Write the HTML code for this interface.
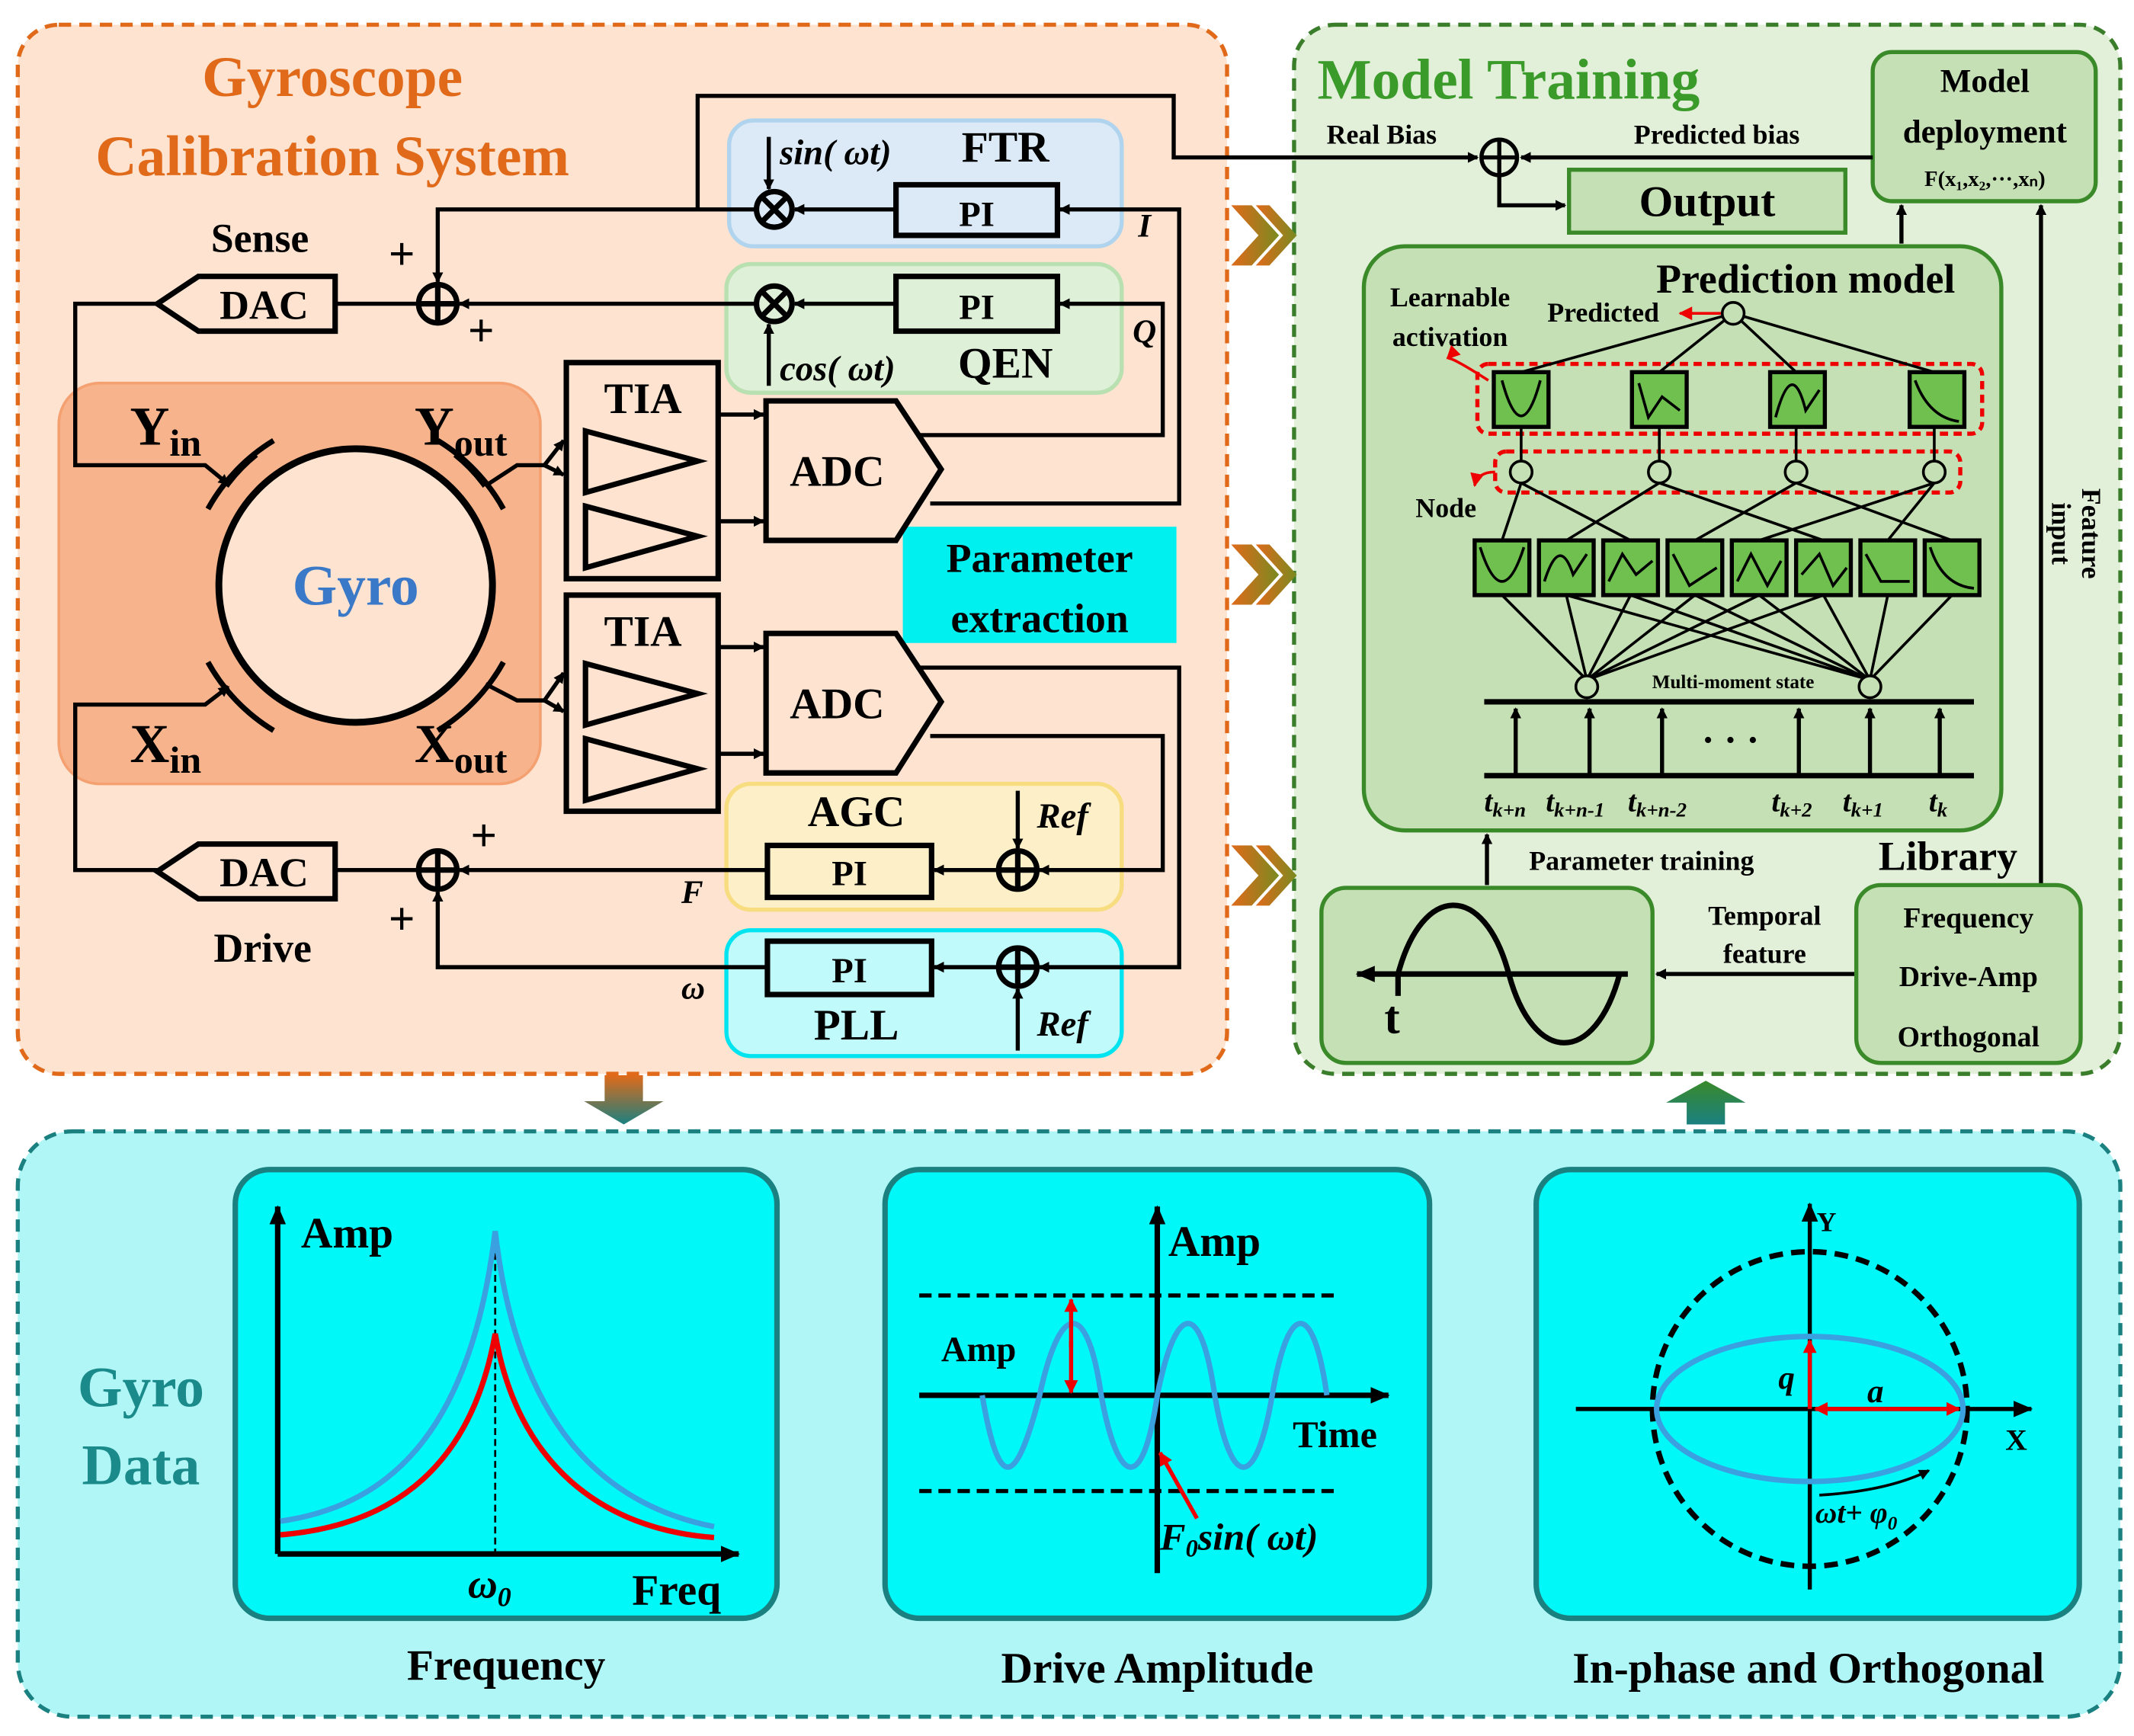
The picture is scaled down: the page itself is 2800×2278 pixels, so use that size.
<!DOCTYPE html>
<html><head><meta charset="utf-8"><style>
html,body{margin:0;padding:0;background:#fff}
svg{display:block}
text{font-family:"Liberation Serif",serif;font-weight:bold}
</style></head><body>
<svg width="2800" height="2278" viewBox="0 0 1560 1269" xmlns="http://www.w3.org/2000/svg">
<defs>
<marker id="a" markerWidth="8" markerHeight="8" refX="7" refY="4" orient="auto" markerUnits="userSpaceOnUse" viewBox="0 0 8 8"><path d="M0,0 L8,4 L0,8 z" fill="#000"/></marker>
<marker id="ab" markerWidth="14" markerHeight="12" refX="13" refY="6" orient="auto" markerUnits="userSpaceOnUse" viewBox="0 0 14 12"><path d="M0,0 L14,6 L0,12 z" fill="#000"/></marker>
<marker id="ar" markerWidth="10" markerHeight="10" refX="9" refY="5" orient="auto" markerUnits="userSpaceOnUse" viewBox="0 0 10 10"><path d="M0,0 L10,5 L0,10 z" fill="#e00"/></marker>
<linearGradient id="ch" x1="0" x2="1"><stop offset="0" stop-color="#e06a1a"/><stop offset="1" stop-color="#7a8a20"/></linearGradient>
<linearGradient id="dn" x1="0" y1="0" x2="0" y2="1"><stop offset="0" stop-color="#e06a1a"/><stop offset="1" stop-color="#1a8080"/></linearGradient>
<linearGradient id="up" x1="0" y1="0" x2="0" y2="1"><stop offset="0" stop-color="#3a8a2a"/><stop offset="1" stop-color="#1a8080"/></linearGradient>
</defs>

<rect x="13" y="18" width="884" height="767" rx="30" fill="#fde3d0" stroke="#e06a1a" stroke-width="3" stroke-dasharray="9,6"/>
<rect x="946" y="18" width="604" height="767" rx="30" fill="#e2efd9" stroke="#3a7d2a" stroke-width="3" stroke-dasharray="9,6"/>
<rect x="13" y="827" width="1537" height="428" rx="40" fill="#b0f6f6" stroke="#1a8080" stroke-width="3" stroke-dasharray="9,6"/>

<g fill="url(#ch)">
<path d="M900,150 L915,150 L935,172 L915,194 L900,194 L920,172z"/><path d="M918,150 L928,150 L948,172 L928,194 L918,194 L938,172z"/>
<path d="M900,398 L915,398 L935,420 L915,442 L900,442 L920,420z"/><path d="M918,398 L928,398 L948,420 L928,442 L918,442 L938,420z"/>
<path d="M900,618 L915,618 L935,640 L915,662 L900,662 L920,640z"/><path d="M918,618 L928,618 L948,640 L928,662 L918,662 L938,640z"/>
</g>
<path d="M442,786 L470,786 L470,805 L485,805 L456,822 L427,805 L442,805z" fill="url(#dn)"/>
<path d="M1233,822 L1261,822 L1261,806 L1276,806 L1247,790 L1218,806 L1233,806z" fill="url(#up)"/>

<text x="243" y="70" font-size="42" fill="#e06a1a" text-anchor="middle">Gyroscope</text>
<text x="243" y="128" font-size="42" fill="#e06a1a" text-anchor="middle">Calibration System</text>

<rect x="533" y="88" width="287" height="92" rx="18" fill="#dbeaf6" stroke="#b0d4ee" stroke-width="3"/>
<rect x="531" y="193" width="289" height="94" rx="18" fill="#dff0d8" stroke="#b8e0b0" stroke-width="3"/>
<rect x="531" y="573" width="289" height="92" rx="18" fill="#fdf0c8" stroke="#f8dc80" stroke-width="3"/>
<rect x="531" y="680" width="289" height="92" rx="18" fill="#c0fafa" stroke="#00e4f0" stroke-width="3"/>
<rect x="43" y="280" width="352" height="293" rx="30" fill="#f7b48c" stroke="#f5a070" stroke-width="2"/>
<rect x="660" y="385" width="200" height="85" fill="#00f0f0"/>
<text x="760" y="418" font-size="30" text-anchor="middle">Parameter</text>
<text x="760" y="462" font-size="30" text-anchor="middle">extraction</text>

<g stroke="#000" stroke-width="4" fill="none">
<rect x="655" y="135" width="118" height="37"/>
<rect x="655" y="202" width="118" height="40"/>
<rect x="561" y="618" width="120" height="38"/>
<rect x="561" y="688" width="120" height="39"/>
<circle cx="566" cy="153" r="13"/><path d="M557,144 L575,162 M575,144 L557,162"/>
<circle cx="566" cy="222" r="13"/><path d="M557,213 L575,231 M575,213 L557,231"/>
<circle cx="320" cy="222" r="14"/><path d="M306,222 H334 M320,208 V236"/>
<circle cx="320" cy="636" r="14"/><path d="M306,636 H334 M320,622 V650"/>
<circle cx="744" cy="636" r="14"/><path d="M730,636 H758 M744,622 V650"/>
<circle cx="744" cy="707" r="14"/><path d="M730,707 H758 M744,693 V721"/>
<path d="M115,222 L145,202 L245,202 L245,242 L145,242z"/>
<path d="M115,637 L145,617 L245,617 L245,657 L145,657z"/>
<rect x="414" y="265" width="111" height="158"/>
<rect x="414" y="435" width="111" height="158"/>
<path d="M428,315 L510,337 L428,360z M428,370 L510,392 L428,415z M428,485 L510,507 L428,530z M428,540 L510,562 L428,585z"/>
<path d="M560,293 L655,293 L688,343 L655,395 L560,395z"/>
<path d="M560,463 L655,463 L688,513 L655,565 L560,565z"/>
<circle cx="260" cy="428" r="100" stroke-width="5" fill="#fde3d0"/>
<path d="M165,355 A120,120 0 0,1 187,332" stroke-width="5"/>
<path d="M152,372 A135,135 0 0,1 200,322" stroke-width="4"/>
<path d="M333,332 A120,120 0 0,1 355,355" stroke-width="5"/>
<path d="M320,322 A135,135 0 0,1 368,372" stroke-width="4"/>
<path d="M152,484 A135,135 0 0,0 200,534" stroke-width="4"/>
<path d="M320,534 A135,135 0 0,0 368,484" stroke-width="4"/>
</g>

<g stroke="#000" stroke-width="3" fill="none">
<path d="M510,153 V70 H858 V115 H1080" marker-end="url(#a)"/>
<path d="M552,153 H320 V206" marker-end="url(#a)"/>
<path d="M655,153 H581" marker-end="url(#a)"/>
<path d="M655,222 H581" marker-end="url(#a)"/>
<path d="M562,100 V138" marker-end="url(#a)"/>
<path d="M562,282 V237" marker-end="url(#a)"/>
<path d="M670,318 H850 V222 H775" marker-end="url(#a)"/>
<path d="M680,368 H862 V153 H775" marker-end="url(#a)"/>
<path d="M552,222 H336" marker-end="url(#a)"/>
<path d="M306,222 H245"/>
<path d="M115,222 H55 V340 H150 L167,354" marker-end="url(#a)"/>
<path d="M115,636 H55 V515 H150 L167,502" marker-end="url(#a)"/>
<path d="M355,355 L378,340 H398"/>
<path d="M398,340 L412,322" marker-end="url(#a)"/>
<path d="M398,340 L412,347" marker-end="url(#a)"/>
<path d="M355,500 L378,512 H398"/>
<path d="M398,512 L412,492" marker-end="url(#a)"/>
<path d="M398,512 L412,520" marker-end="url(#a)"/>
<path d="M525,303 H558" marker-end="url(#a)"/>
<path d="M525,381 H558" marker-end="url(#a)"/>
<path d="M525,473 H558" marker-end="url(#a)"/>
<path d="M525,551 H558" marker-end="url(#a)"/>
<path d="M670,488 H862 V707 H760" marker-end="url(#a)"/>
<path d="M680,538 H850 V636 H760" marker-end="url(#a)"/>
<path d="M730,636 H683" marker-end="url(#a)"/>
<path d="M730,707 H683" marker-end="url(#a)"/>
<path d="M744,578 V620" marker-end="url(#a)"/>
<path d="M744,768 V723" marker-end="url(#a)"/>
<path d="M561,636 H336" marker-end="url(#a)"/>
<path d="M561,707 H320 V652" marker-end="url(#a)"/>
<path d="M306,636 H245"/>
</g>

<text x="260" y="442" font-size="42" fill="#3a78c8" text-anchor="middle">Gyro</text>
<text x="95" y="325" font-size="40">Y<tspan font-size="28" dy="8">in</tspan></text>
<text x="303" y="325" font-size="40">Y<tspan font-size="28" dy="8">out</tspan></text>
<text x="95" y="557" font-size="40">X<tspan font-size="28" dy="8">in</tspan></text>
<text x="303" y="557" font-size="40">X<tspan font-size="28" dy="8">out</tspan></text>
<text x="190" y="184" font-size="30" text-anchor="middle">Sense</text>
<text x="192" y="703" font-size="30" text-anchor="middle">Drive</text>
<text x="193" y="233" font-size="30" text-anchor="middle">DAC</text>
<text x="193" y="648" font-size="30" text-anchor="middle">DAC</text>
<text x="470" y="302" font-size="32" text-anchor="middle">TIA</text>
<text x="470" y="472" font-size="32" text-anchor="middle">TIA</text>
<text x="612" y="355" font-size="32" text-anchor="middle">ADC</text>
<text x="612" y="525" font-size="32" text-anchor="middle">ADC</text>
<text x="714" y="165" font-size="26" text-anchor="middle">PI</text>
<text x="714" y="233" font-size="26" text-anchor="middle">PI</text>
<text x="621" y="647" font-size="26" text-anchor="middle">PI</text>
<text x="621" y="718" font-size="26" text-anchor="middle">PI</text>
<text x="735" y="118" font-size="32" text-anchor="middle">FTR</text>
<text x="735" y="276" font-size="32" text-anchor="middle">QEN</text>
<text x="626" y="604" font-size="32" text-anchor="middle">AGC</text>
<text x="626" y="760" font-size="32" text-anchor="middle">PLL</text>
<text x="570" y="120" font-size="26" font-style="italic">sin( ωt)</text>
<text x="570" y="278" font-size="26" font-style="italic">cos( ωt)</text>
<text x="758" y="605" font-size="26" font-style="italic">Ref</text>
<text x="758" y="757" font-size="26" font-style="italic">Ref</text>
<text x="832" y="173" font-size="24" font-style="italic">I</text>
<text x="828" y="250" font-size="24" font-style="italic">Q</text>
<text x="498" y="660" font-size="24" font-style="italic">F</text>
<text x="498" y="730" font-size="24" font-style="italic">ω</text>
<text x="284" y="197" font-size="34">+</text>
<text x="342" y="253" font-size="34">+</text>
<text x="344" y="622" font-size="34">+</text>
<text x="284" y="683" font-size="34">+</text>

<text x="963" y="72" font-size="42" fill="#3a9a2a">Model Training</text>
<rect x="1369" y="38" width="163" height="109" rx="14" fill="#c5e0b4" stroke="#3a8a2a" stroke-width="3"/>
<text x="1451" y="67" font-size="24" text-anchor="middle">Model</text>
<text x="1451" y="104" font-size="24" text-anchor="middle">deployment</text>
<text x="1451" y="136" font-size="16" text-anchor="middle">F(x₁,x₂,···,xₙ)</text>
<rect x="1147" y="124" width="202" height="46" fill="#c5e0b4" stroke="#3a8a2a" stroke-width="3"/>
<text x="1248" y="158" font-size="32" text-anchor="middle">Output</text>
<g stroke="#000" stroke-width="3" fill="none">
<circle cx="1096" cy="115" r="13"/><path d="M1083,115 H1109 M1096,102 V128"/>
<path d="M1096,128 V150 H1144" marker-end="url(#a)"/>
<path d="M1369,115 H1112" marker-end="url(#a)"/>
<path d="M1390,178 V150" marker-end="url(#a)"/>
<path d="M1492,647 V150" marker-end="url(#a)"/>
<path d="M1087,647 V610" marker-end="url(#a)"/>
<path d="M1357,712 H1211" marker-end="url(#a)"/>
</g>
<text x="1010" y="105" font-size="20" text-anchor="middle">Real Bias</text>
<text x="1255" y="105" font-size="20" text-anchor="middle">Predicted bias</text>
<text x="1200" y="636" font-size="20" text-anchor="middle">Parameter training</text>
<text x="1290" y="676" font-size="20" text-anchor="middle">Temporal</text>
<text x="1290" y="704" font-size="20" text-anchor="middle">feature</text>
<text x="1424" y="636" font-size="30" text-anchor="middle">Library</text>
<text x="1522" y="390" font-size="20" text-anchor="middle" transform="rotate(90 1522 390)">Feature</text>
<text x="1500" y="390" font-size="20" text-anchor="middle" transform="rotate(90 1500 390)">input</text>

<rect x="1357" y="647" width="164" height="130" rx="18" fill="#c5e0b4" stroke="#3a8a2a" stroke-width="3"/>
<text x="1439" y="678" font-size="21" text-anchor="middle">Frequency</text>
<text x="1439" y="721" font-size="21" text-anchor="middle">Drive-Amp</text>
<text x="1439" y="765" font-size="21" text-anchor="middle">Orthogonal</text>
<rect x="966" y="649" width="242" height="128" rx="18" fill="#c5e0b4" stroke="#3a8a2a" stroke-width="3"/>
<g stroke="#000" stroke-width="4" fill="none">
<path d="M1190,712 H992" marker-end="url(#ab)"/>
<path d="M1022,712 C1040,645 1085,645 1103,712 C1121,779 1166,779 1184,712"/>
<path d="M1022,712 V728"/>
</g>
<text x="1012" y="755" font-size="34">t</text>

<rect x="997" y="180" width="466" height="427" rx="30" fill="#c5e0b4" stroke="#3a8a2a" stroke-width="3"/>
<text x="1320" y="214" font-size="30" text-anchor="middle">Prediction model</text>
<text x="1060" y="224" font-size="20" text-anchor="middle">Learnable</text>
<text x="1060" y="253" font-size="20" text-anchor="middle">activation</text>
<text x="1172" y="235" font-size="20" text-anchor="middle">Predicted</text>
<text x="1057" y="378" font-size="20" text-anchor="middle">Node</text>
<text x="1267" y="503" font-size="14" text-anchor="middle">Multi-moment state</text>
<g stroke="#e00" stroke-width="2" fill="none">
<path d="M1258,229 H1228" marker-end="url(#ar)"/>
<path d="M1088,278 Q1060,260 1058,262" marker-end="url(#ar)"/>
<path d="M1093,345 Q1080,345 1078,355" marker-end="url(#ar)"/>
<rect x="1080" y="266" width="369" height="51" rx="8" stroke-dasharray="6,4" stroke-width="3"/>
<rect x="1093" y="330" width="340" height="30" rx="8" stroke-dasharray="6,4" stroke-width="3"/>
</g>
<g stroke="#000" stroke-width="2" fill="none">
<path d="M1267,229 L1112,272 M1267,229 L1213,272 M1267,229 L1313,272 M1267,229 L1414,272"/>
<path d="M1112,312 V337 M1213,312 V337 M1313,312 V337 M1414,312 V337"/>
<path d="M1112,353 L1098,395 M1112,353 L1192,395 M1213,353 L1145,395 M1213,353 L1333,395 M1313,353 L1239,395 M1313,353 L1427,395 M1414,353 L1286,395 M1414,353 L1380,395"/>
<path d="M1160,497 L1098,435 M1160,497 L1145,435 M1160,497 L1192,435 M1160,497 L1239,435 M1160,497 L1286,435 M1160,497 L1333,435"/>
<path d="M1367,497 L1192,435 M1367,497 L1239,435 M1367,497 L1286,435 M1367,497 L1333,435 M1367,497 L1380,435 M1367,497 L1427,435 M1367,497 L1145,435"/>
</g>
<g fill="#70c050" stroke="#000" stroke-width="3">
<rect x="1092" y="272" width="40" height="40"/><rect x="1193" y="272" width="40" height="40"/><rect x="1294" y="272" width="40" height="40"/><rect x="1396" y="272" width="40" height="40"/>
<rect x="1078" y="395" width="40" height="40"/><rect x="1125" y="395" width="40" height="40"/><rect x="1172" y="395" width="40" height="40"/><rect x="1219" y="395" width="40" height="40"/><rect x="1266" y="395" width="40" height="40"/><rect x="1313" y="395" width="40" height="40"/><rect x="1360" y="395" width="40" height="40"/><rect x="1407" y="395" width="40" height="40"/>
</g>
<g stroke="#000" stroke-width="2" fill="none">
<path d="M1098,278 Q1112,330 1126,278"/><path d="M1198,280 L1205,305 L1215,290 L1228,300"/><path d="M1298,305 Q1310,260 1320,300 L1330,285"/><path d="M1400,278 Q1410,305 1432,308"/>
<path d="M1082,400 Q1098,450 1114,400"/><path d="M1129,425 Q1140,390 1150,420 L1160,405"/><path d="M1176,425 L1186,405 L1196,420 L1208,410"/><path d="M1223,405 L1235,428 L1255,415"/><path d="M1270,425 L1280,405 L1292,428 L1302,410"/><path d="M1317,420 L1330,405 L1340,428 L1350,415"/><path d="M1364,405 L1375,425 L1396,425"/><path d="M1411,400 Q1420,428 1443,430"/>
</g>
<g fill="#c5e0b4" stroke="#000" stroke-width="2">
<circle cx="1267" cy="229" r="8"/>
<circle cx="1112" cy="345" r="8"/><circle cx="1213" cy="345" r="8"/><circle cx="1313" cy="345" r="8"/><circle cx="1414" cy="345" r="8"/>
<circle cx="1160" cy="502" r="8"/><circle cx="1367" cy="502" r="8"/>
</g>
<g stroke="#000" stroke-width="4" fill="none">
<path d="M1085,513 H1443 M1085,567 H1443"/>
</g>
<g stroke="#000" stroke-width="3" fill="none">
<path d="M1108,567 V518" marker-end="url(#a)"/><path d="M1162,567 V518" marker-end="url(#a)"/><path d="M1215,567 V518" marker-end="url(#a)"/><path d="M1315,567 V518" marker-end="url(#a)"/><path d="M1367,567 V518" marker-end="url(#a)"/><path d="M1418,567 V518" marker-end="url(#a)"/>
</g>
<text x="1265" y="550" font-size="28" text-anchor="middle">· · ·</text>
<g font-size="22" font-style="italic">
<text x="1085" y="593">t<tspan font-size="15" dy="4">k+n</tspan></text>
<text x="1130" y="593">t<tspan font-size="15" dy="4">k+n-1</tspan></text>
<text x="1190" y="593">t<tspan font-size="15" dy="4">k+n-2</tspan></text>
<text x="1295" y="593">t<tspan font-size="15" dy="4">k+2</tspan></text>
<text x="1347" y="593">t<tspan font-size="15" dy="4">k+1</tspan></text>
<text x="1410" y="593">t<tspan font-size="15" dy="4">k</tspan></text>
</g>

<text x="103" y="1028" font-size="42" fill="#1a8a8a" text-anchor="middle">Gyro</text>
<text x="103" y="1085" font-size="42" fill="#1a8a8a" text-anchor="middle">Data</text>
<g fill="#00f8f8" stroke="#1a8080" stroke-width="4">
<rect x="172" y="855" width="396" height="328" rx="25"/>
<rect x="647" y="855" width="398" height="328" rx="25"/>
<rect x="1123" y="855" width="397" height="328" rx="25"/>
</g>
<text x="370" y="1228" font-size="32" text-anchor="middle">Frequency</text>
<text x="846" y="1230" font-size="32" text-anchor="middle">Drive Amplitude</text>
<text x="1322" y="1230" font-size="32" text-anchor="middle">In-phase and Orthogonal</text>

<g stroke="#000" stroke-width="4" fill="none">
<path d="M203,1136 V882" marker-end="url(#ab)"/>
<path d="M203,1136 H540" marker-end="url(#ab)"/>
</g>
<path d="M362,900 V1136" stroke="#000" stroke-width="1.5" stroke-dasharray="5,3"/>
<path d="M205,1112 C290,1100 345,1040 362,900 C378,1040 440,1100 522,1116" stroke="#3aa0e0" stroke-width="4" fill="none"/>
<path d="M205,1122 C290,1115 345,1070 362,975 C378,1070 440,1118 522,1124" stroke="#e00" stroke-width="4" fill="none"/>
<text x="220" y="912" font-size="32">Amp</text>
<text x="462" y="1173" font-size="32">Freq</text>
<text x="342" y="1168" font-size="30" font-style="italic">ω<tspan font-size="20" dy="6">0</tspan></text>

<g stroke="#000" stroke-width="4" fill="none">
<path d="M846,1150 V882" marker-end="url(#ab)"/>
<path d="M672,1020 H1015" marker-end="url(#ab)"/>
</g>
<path d="M672,947 H978 M672,1090 H978" stroke="#000" stroke-width="3" stroke-dasharray="9,5"/>
<path d="M718,1020 C730,1090 742,1090 760,1020 C775,950 795,950 805,1020 C818,1090 836,1090 846,1020 C860,950 878,950 888,1020 C900,1090 918,1090 930,1020 C942,950 960,950 970,1020" stroke="#3aa0e0" stroke-width="4" fill="none"/>
<path d="M783,985 V950" stroke="#e00" stroke-width="3" marker-end="url(#ar)"/>
<path d="M783,980 V1018" stroke="#e00" stroke-width="3" marker-end="url(#ar)"/>
<path d="M875,1110 L848,1062" stroke="#e00" stroke-width="3" marker-end="url(#ar)"/>
<text x="854" y="918" font-size="32">Amp</text>
<text x="688" y="995" font-size="26">Amp</text>
<text x="945" y="1058" font-size="28">Time</text>
<text x="848" y="1133" font-size="28" font-style="italic">F<tspan font-size="18" dy="5">0</tspan><tspan dy="-5">sin( ωt)</tspan></text>

<g stroke="#000" stroke-width="3" fill="none">
<path d="M1152,1030 H1485" marker-end="url(#ab)"/>
<path d="M1323,1162 V880" marker-end="url(#ab)"/>
</g>
<circle cx="1323" cy="1030" r="115" fill="none" stroke="#000" stroke-width="4" stroke-dasharray="10,6"/>
<ellipse cx="1323" cy="1030" rx="112" ry="53" fill="none" stroke="#3aa0e0" stroke-width="4"/>
<path d="M1323,1030 V980" stroke="#e00" stroke-width="3" marker-end="url(#ar)"/>
<path d="M1380,1030 H1432" stroke="#e00" stroke-width="3" marker-end="url(#ar)"/>
<path d="M1380,1030 H1327" stroke="#e00" stroke-width="3" marker-end="url(#ar)"/>
<path d="M1330,1093 Q1380,1090 1410,1075" stroke="#000" stroke-width="2" fill="none" marker-end="url(#a)"/>
<text x="1300" y="1015" font-size="24" font-style="italic">q</text>
<text x="1365" y="1025" font-size="24" font-style="italic">a</text>
<text x="1328" y="900" font-size="20">Y</text>
<text x="1466" y="1060" font-size="22">X</text>
<text x="1327" y="1113" font-size="22" font-style="italic">ωt+ φ<tspan font-size="14" dy="5">0</tspan></text>
</svg>
</body></html>
